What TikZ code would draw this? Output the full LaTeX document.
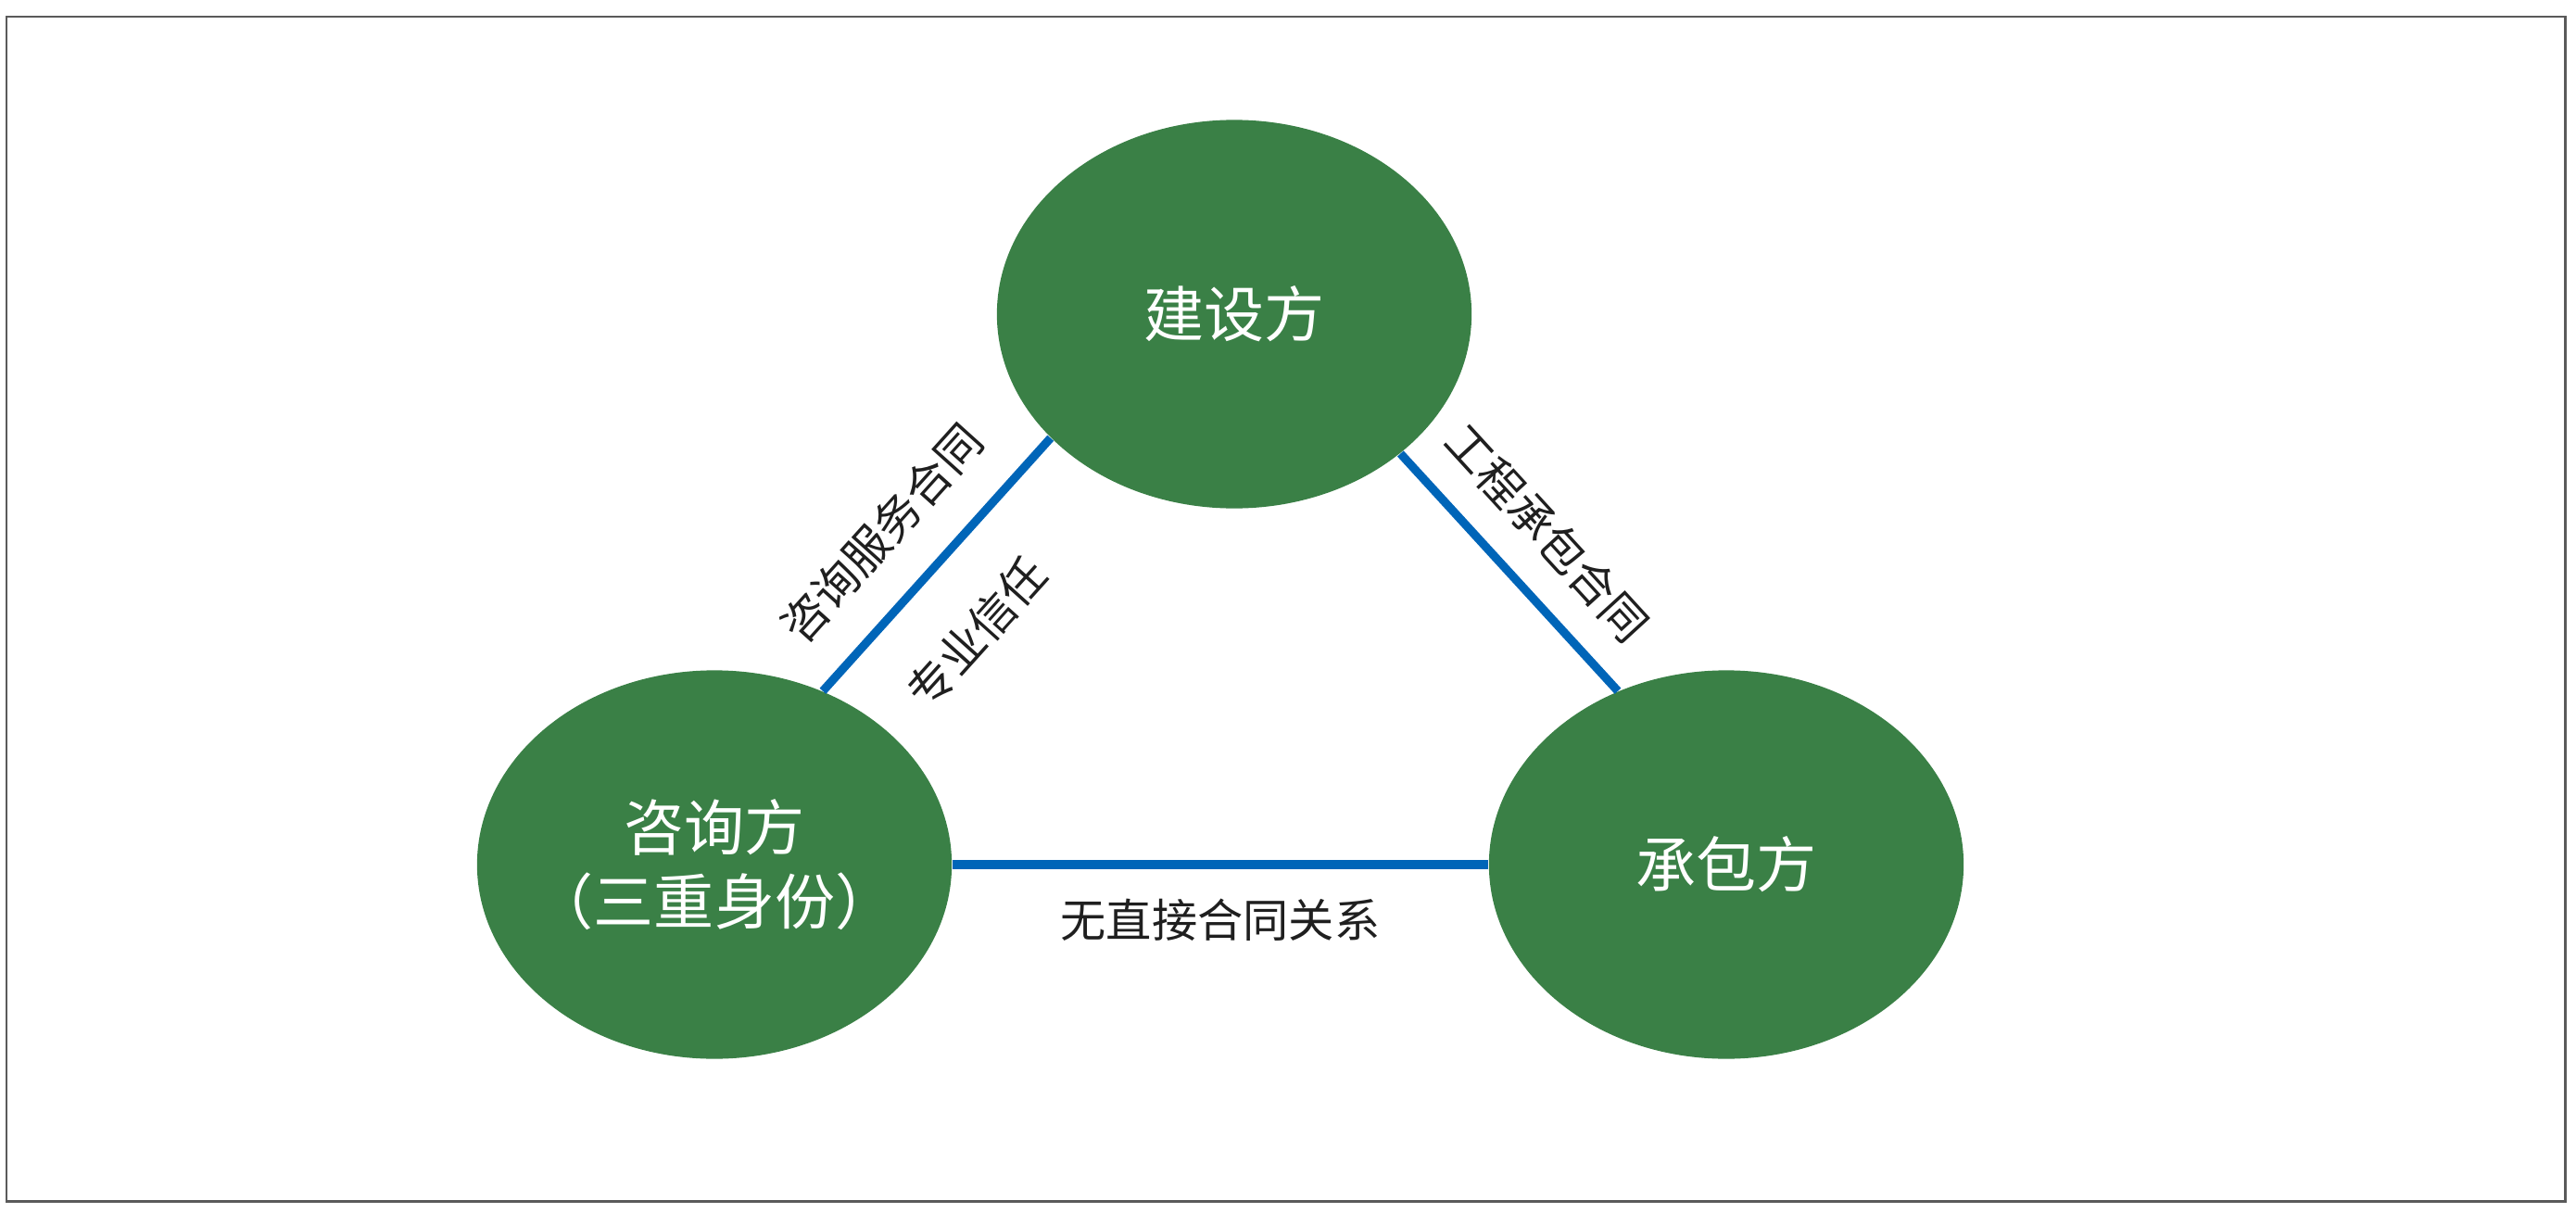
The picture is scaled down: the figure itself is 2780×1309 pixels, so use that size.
\documentclass[tikz,border=0pt]{standalone}
\usepackage{fontspec}
\usepackage{xcolor}
\usepackage{tikz}
\usetikzlibrary{shapes.geometric}

\newfontfamily\cjk{Noto Sans CJK SC}
\definecolor{partygreen}{RGB}{58,128,70}
\definecolor{linkblue}{RGB}{0,101,184}
\definecolor{framegray}{RGB}{90,90,90}

\begin{document}
\begin{tikzpicture}[x=0.01cm, y=0.01cm,
  party/.style={ellipse, fill=partygreen, minimum width=5.12cm, minimum height=4.19cm,
    inner sep=0pt, text=white, align=center, font=\cjk\fontsize{18.5}{22.7}\selectfont},
  link/.style={draw=linkblue, line width=2.6pt},
  tag/.style={inner sep=0pt, text=black!88, font=\cjk\fontsize{14}{17}\selectfont}]

  \useasboundingbox (0,0) rectangle (2780,-1309);
  \draw[framegray, line width=0.85pt] (7,-18) rectangle (2768,-1296);

  % three parties
  \node[party] (owner) at (1332,-339) {建设方};
  \node[party, inner xsep=-0.6cm] (consult) at (771,-933) {咨询方\\（三重身份）};
  \node[party] (contractor) at (1863,-933) {承包方};

  % owner -- consultant
  \draw[link] (consult.58)
    -- node[tag, pos=0.46, sloped, above=0.39cm] (svc) {咨询服务合同}
       node[tag, pos=0.43, sloped, below=0.54cm] (trust) {专业信任}
    (owner.214);

  % owner -- contractor
  \draw[link] (owner.-40)
    -- node[tag, pos=0.49, sloped, above=0.32cm] (build) {工程承包合同}
    (contractor.122.5);

  % consultant -- contractor
  \draw[link] (consult.east)
    -- node[tag, below=0.32cm] (none) {无直接合同关系}
    (contractor.west);
\end{tikzpicture}
\end{document}
